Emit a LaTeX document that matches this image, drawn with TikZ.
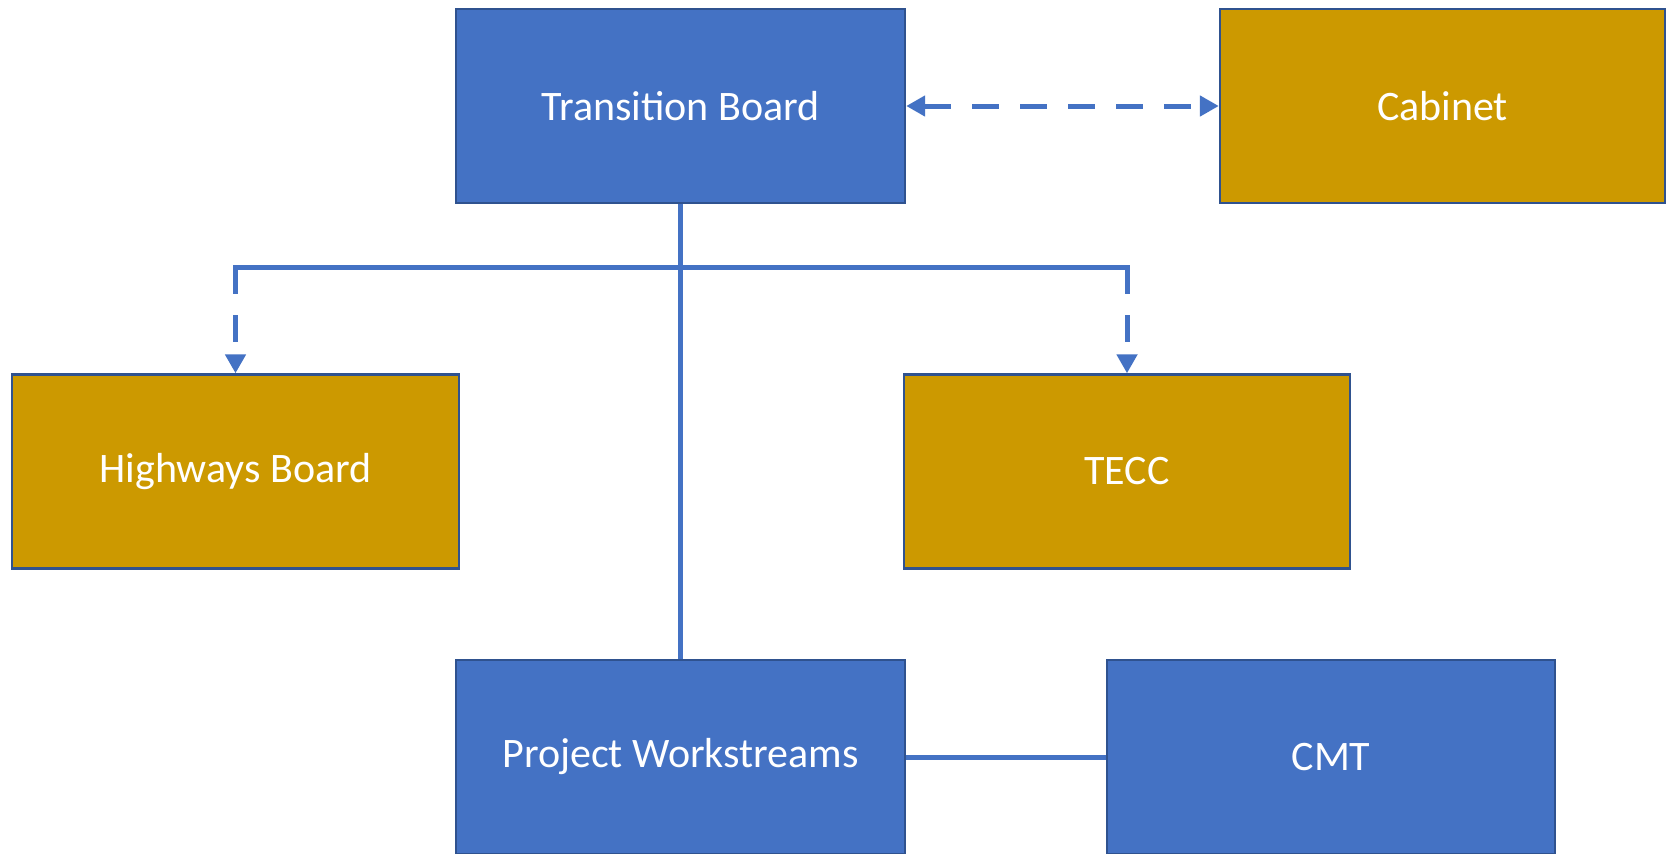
\documentclass[tikz,border=0pt]{standalone}
\usepackage{fontspec}
\setmainfont{Carlito}
\usetikzlibrary{arrows.meta}
\definecolor{boxblue}{HTML}{4472C4}
\definecolor{boxgold}{HTML}{CC9900}
\definecolor{edgeblue}{HTML}{2F528F}
\definecolor{linkblue}{HTML}{4472C4}
\tikzset{
  basebox/.style={rectangle, draw=edgeblue, line width=1.2pt, minimum height=97pt,
    text=white, font=\fontsize{21pt}{25pt}\selectfont, inner sep=0pt},
  bluebox/.style={basebox, fill=boxblue},
  goldbox/.style={basebox, fill=boxgold},
  link/.style={draw=linkblue, line width=2.5pt},
  dlink/.style={link, dash pattern=on 13.5pt off 10.5pt},
  tip/.style={-{Triangle[length=9.5pt,width=10pt]}}
}
\begin{document}
\begin{tikzpicture}[x=0.5pt,y=-0.5pt]
\useasboundingbox (0,0) rectangle (1669,853);
\clip (0,0) rectangle (1669,853);
\fill[white] (0,0) rectangle (1669,853);
\node[bluebox, minimum width=224.5pt] (tb) at (680.5,106) {Transition Board};
\node[goldbox, minimum width=222.5pt] (cab) at (1442.5,106) {Cabinet};
\node[goldbox, minimum width=223.5pt] (hb) at (235.5,471.5) {Highways Board};
\node[goldbox, minimum width=223pt] (tecc) at (1127,471.5) {TECC};
\node[bluebox, minimum width=224.5pt] (pw) at (680.5,757) {Project Workstreams};
\node[bluebox, minimum width=224pt] (cmt) at (1331,757) {CMT};
\coordinate (hl) at (235.5,267);
\coordinate (hr) at (1127,267);
\draw[link] (tb.south) -- (pw.north);
\draw[link] (pw.east) -- (cmt.west);
\draw[link] ([xshift=-1.25pt]hl) -- ([xshift=1.25pt]hr);
\draw[dlink, tip] (hl) -- (hb.north);
\draw[dlink, tip] (hr) -- (tecc.north);
\draw[dlink, {Triangle[length=9.5pt,width=10pt]}-{Triangle[length=9.5pt,width=10pt]}] (tb.east) -- (cab.west);
\end{tikzpicture}
\end{document}
